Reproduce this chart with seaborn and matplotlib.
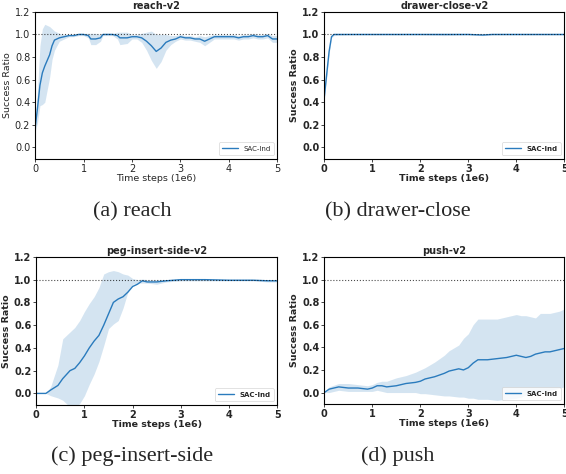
import numpy as np
import matplotlib
matplotlib.use("Agg")
import matplotlib.pyplot as plt
import seaborn as sns

# ---- data (x in 1e6 steps) ----
reach_x = [0, 0.05, 0.1, 0.15, 0.2, 0.3, 0.35, 0.4, 0.5, 0.6, 0.7, 0.8, 0.9, 1.0, 1.1, 1.15,
           1.25, 1.35, 1.4, 1.5, 1.6, 1.7, 1.75, 1.9, 2.0, 2.1, 2.2, 2.3, 2.4, 2.5, 2.6, 2.7,
           2.8, 2.9, 3.0, 3.1, 3.2, 3.3, 3.4, 3.5, 3.6, 3.7, 3.8, 3.9, 4.0, 4.1, 4.2, 4.3, 4.4,
           4.5, 4.6, 4.7, 4.8, 4.9, 5.0]
reach_mean = [0.17, 0.35, 0.55, 0.66, 0.72, 0.82, 0.90, 0.95, 0.97, 0.98, 0.99, 0.99, 1.0, 1.0,
              0.99, 0.96, 0.96, 0.97, 1.0, 1.0, 1.0, 0.99, 0.97, 0.97, 0.98, 0.98, 0.97, 0.94,
              0.90, 0.85, 0.88, 0.93, 0.95, 0.96, 0.98, 0.97, 0.97, 0.96, 0.96, 0.94, 0.96, 0.98,
              0.98, 0.98, 0.98, 0.98, 0.97, 0.98, 0.98, 0.99, 0.98, 0.98, 0.99, 0.96, 0.96]
reach_low = [0.14, 0.22, 0.37, 0.38, 0.40, 0.62, 0.78, 0.86, 0.94, 0.96, 0.98, 0.98, 0.99, 0.99,
             0.97, 0.91, 0.91, 0.94, 0.99, 0.99, 0.99, 0.96, 0.91, 0.92, 0.96, 0.96, 0.93, 0.86,
             0.77, 0.70, 0.76, 0.86, 0.91, 0.94, 0.96, 0.95, 0.95, 0.94, 0.93, 0.90, 0.93, 0.96,
             0.96, 0.96, 0.96, 0.96, 0.95, 0.96, 0.96, 0.97, 0.96, 0.96, 0.97, 0.93, 0.93]
reach_high = [0.20, 0.50, 0.90, 1.05, 1.09, 1.07, 1.05, 1.03, 1.01, 1.00, 1.00, 1.00, 1.01, 1.01,
              1.01, 1.01, 1.01, 1.00, 1.01, 1.01, 1.01, 1.02, 1.02, 1.02, 1.00, 1.00, 1.01, 1.02,
              1.03, 1.00, 1.00, 1.00, 0.99, 0.99, 1.00, 0.99, 0.99, 0.98, 0.99, 0.98, 0.99, 1.00,
              1.00, 1.00, 1.00, 1.00, 0.99, 1.00, 1.00, 1.01, 1.00, 1.00, 1.01, 0.99, 0.99]

drawer_x = [0, 0.05, 0.1, 0.15, 0.2, 0.5, 1.0, 1.5, 2.0, 2.5, 3.0, 3.3, 3.5, 4.0, 4.5, 5.0]
drawer_mean = [0.45, 0.65, 0.85, 0.98, 1.0, 1.0, 1.0, 1.0, 1.0, 1.0, 1.0, 0.995, 1.0, 1.0, 1.0, 1.0]
drawer_low = [0.42, 0.62, 0.83, 0.97, 0.99, 0.995, 0.995, 0.995, 0.995, 0.99, 0.995, 0.99, 0.995,
              0.995, 0.995, 0.995]
drawer_high = [0.48, 0.68, 0.87, 0.99, 1.005, 1.005, 1.005, 1.005, 1.005, 1.005, 1.005, 1.0,
               1.005, 1.005, 1.005, 1.005]

peg_x = [0, 0.2, 0.3, 0.45, 0.55, 0.7, 0.8, 0.9, 1.0, 1.1, 1.2, 1.3, 1.4, 1.5, 1.6, 1.7, 1.8,
         1.9, 2.0, 2.1, 2.2, 2.3, 2.5, 2.7, 3.0, 3.5, 4.0, 4.5, 4.8, 5.0]
peg_mean = [0.0, 0.0, 0.03, 0.07, 0.13, 0.20, 0.22, 0.27, 0.33, 0.40, 0.46, 0.51, 0.60, 0.70,
            0.80, 0.83, 0.85, 0.89, 0.94, 0.96, 0.99, 0.98, 0.98, 0.99, 1.0, 1.0, 0.995, 0.995,
            0.99, 0.99]
peg_low = [0.0, 0.0, -0.02, -0.04, -0.06, -0.12, -0.12, -0.09, -0.02, 0.08, 0.17, 0.28, 0.42,
           0.57, 0.61, 0.64, 0.75, 0.89, 0.96, 0.97, 0.97, 0.97, 0.96, 0.98, 0.99, 0.99, 0.99,
           0.99, 0.98, 0.98]
peg_high = [0.0, 0.0, 0.06, 0.25, 0.48, 0.54, 0.58, 0.64, 0.72, 0.79, 0.85, 0.93, 1.05, 1.07,
            1.08, 1.07, 1.05, 1.04, 1.01, 1.00, 1.005, 1.0, 1.0, 1.0, 1.005, 1.005, 1.0, 1.0,
            1.0, 1.0]

push_x = [0, 0.1, 0.3, 0.5, 0.7, 0.9, 1.0, 1.1, 1.2, 1.3, 1.5, 1.7, 1.9, 2.0, 2.1, 2.3, 2.5,
          2.6, 2.8, 2.9, 3.0, 3.1, 3.2, 3.4, 3.6, 3.8, 4.0, 4.1, 4.2, 4.3, 4.4, 4.5, 4.6, 4.7,
          4.8, 4.9, 5.0]
push_mean = [0.0, 0.03, 0.05, 0.04, 0.04, 0.03, 0.04, 0.06, 0.06, 0.05, 0.06, 0.08, 0.09, 0.10,
             0.12, 0.14, 0.17, 0.19, 0.21, 0.20, 0.22, 0.26, 0.29, 0.29, 0.30, 0.31, 0.33, 0.32,
             0.31, 0.32, 0.34, 0.35, 0.36, 0.36, 0.37, 0.38, 0.39]
push_low = [0.0, 0.0, 0.02, 0.01, 0.01, 0.01, 0.01, 0.02, 0.01, 0.0, 0.0, 0.0, 0.0, -0.01, -0.01,
            -0.02, -0.03, -0.03, -0.04, -0.04, -0.05, -0.05, -0.06, -0.06, -0.07, -0.06, -0.05,
            -0.04, -0.02, -0.01, -0.01, 0.0, 0.01, 0.02, 0.03, 0.04, 0.05]
push_high = [0.0, 0.05, 0.08, 0.08, 0.07, 0.06, 0.07, 0.09, 0.10, 0.10, 0.13, 0.15, 0.18, 0.20,
             0.22, 0.27, 0.33, 0.37, 0.42, 0.48, 0.52, 0.60, 0.65, 0.65, 0.65, 0.67, 0.69, 0.68,
             0.68, 0.67, 0.66, 0.70, 0.70, 0.70, 0.71, 0.72, 0.74]

panels = [
    ("reach-v2", "(a) reach", reach_x, reach_mean, reach_low, reach_high, "normal"),
    ("drawer-close-v2", "(b) drawer-close", drawer_x, drawer_mean, drawer_low, drawer_high, "bold"),
    ("peg-insert-side-v2", "(c) peg-insert-side", peg_x, peg_mean, peg_low, peg_high, "bold"),
    ("push-v2", "(d) push", push_x, push_mean, push_low, push_high, "bold"),
]

# axes rectangles in figure fractions (left, bottom, width, height)
rects = [
    (0.062, 0.665, 0.428, 0.310),
    (0.573, 0.665, 0.424, 0.310),
    (0.064, 0.146, 0.426, 0.312),
    (0.573, 0.148, 0.424, 0.310),
]
caption_pos = [(0.233, 0.552), (0.702, 0.552), (0.233, 0.038), (0.703, 0.038)]

sns.set_style("ticks")
plt.rcParams["font.family"] = ["DejaVu Sans"]
color = "#2a7bbd"

fig = plt.figure(figsize=(5.66, 4.74), dpi=100)
for (title, cap, x, m, lo, hi, weight), rect, cp in zip(panels, rects, caption_pos):
    ax = fig.add_axes(rect)
    ax.fill_between(x, lo, hi, color=color, alpha=0.2, linewidth=0)
    sns.lineplot(x=x, y=m, ax=ax, color=color, linewidth=1.0, label="SAC-Ind")
    ax.axhline(1.0, color="black", linestyle=":", linewidth=0.8, alpha=0.7)
    ax.set_xlim(0, 5)
    ax.set_ylim(-0.1, 1.2)
    ax.set_yticks(np.arange(0, 1.21, 0.2))
    ax.set_xticks(range(6))
    ax.tick_params(labelsize=7, length=2, width=0.6, pad=1.5)
    for lab in ax.get_xticklabels() + ax.get_yticklabels():
        lab.set_fontweight(weight)
    ax.set_title(title, fontsize=7, fontweight="bold", pad=2)
    ax.set_xlabel("Time steps (1e6)", fontsize=6.8, fontweight=weight, labelpad=0)
    ax.set_ylabel("Success Ratio", fontsize=6.8, fontweight=weight, labelpad=2)
    for sp in ax.spines.values():
        sp.set_color("black")
        sp.set_linewidth(0.8)
    leg = ax.legend(loc="lower right", prop={"size": 5, "weight": weight},
                    handlelength=2.2, borderpad=0.5)
    leg.get_frame().set_linewidth(0.5)
    fig.text(cp[0], cp[1], cap, ha="center", va="center", fontsize=16,
             family="Liberation Serif")

fig.savefig("out.png", dpi=100, facecolor="white")
